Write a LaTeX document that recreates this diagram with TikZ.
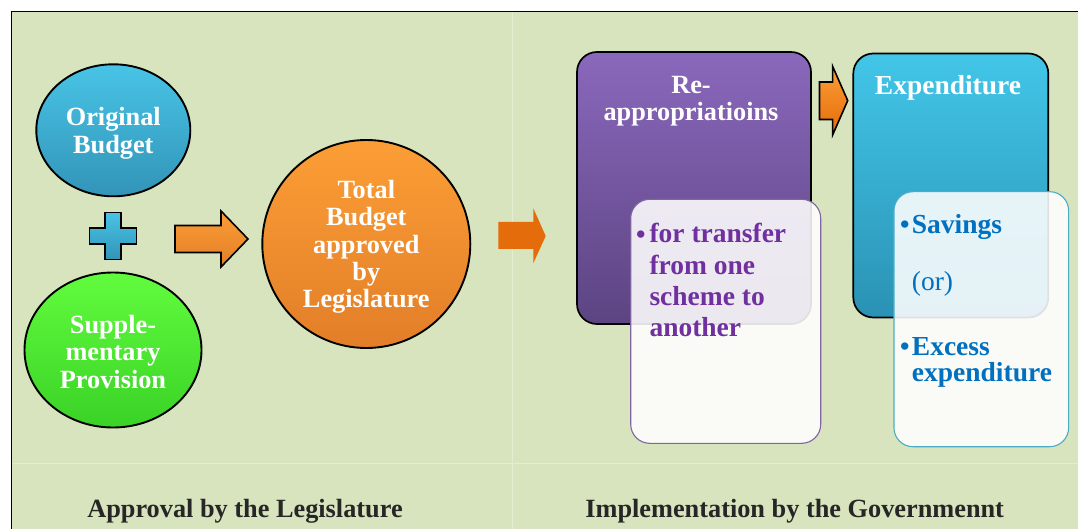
\documentclass[tikz,border=0pt]{standalone}
\usepackage{fontspec}
\setmainfont{Liberation Serif}
\usetikzlibrary{shapes.geometric}

\definecolor{panelgreen}{RGB}{215,228,189}
\definecolor{panelline}{RGB}{228,237,210}
\definecolor{ballbluetop}{RGB}{72,196,230}
\definecolor{ballbluebot}{RGB}{50,148,184}
\definecolor{ballgreentop}{RGB}{98,252,62}
\definecolor{ballgreenbot}{RGB}{58,210,38}
\definecolor{ballorangetop}{RGB}{252,158,54}
\definecolor{ballorangebot}{RGB}{226,126,40}
\definecolor{arroworange}{RGB}{228,108,10}
\definecolor{reapptop}{RGB}{138,104,188}
\definecolor{reappbot}{RGB}{92,68,130}
\definecolor{expendtop}{RGB}{66,198,232}
\definecolor{expendbot}{RGB}{42,146,180}
\definecolor{notepurple}{RGB}{112,48,160}
\definecolor{noteblue}{RGB}{0,112,192}
\definecolor{edgepurple}{RGB}{128,100,162}
\definecolor{edgeblue}{RGB}{75,172,198}
\definecolor{captiongrey}{RGB}{38,38,38}

\newcommand{\titlefont}{\fontsize{26.3}{27.3}\selectfont\bfseries}
\newcommand{\notefont}{\fontsize{27.5}{31.3}\selectfont\bfseries}
\newcommand{\notebullet}{\fontsize{27}{27}\selectfont\textbullet}

\tikzset{
  ball/.style={ellipse, draw=black, line width=1.9pt, inner sep=0pt},
  balltext/.style={text=white, font=\titlefont, align=center, inner sep=0pt},
  stagebox/.style={rectangle, rounded corners=20pt, draw=black, line width=1.7pt},
  notebox/.style={rectangle, rounded corners=19pt, fill=white, fill opacity=0.88, line width=1.1pt},
  notetext/.style={font=\notefont, inner sep=0pt},
  blockarrow/.style={draw=black, line width=1.6pt, line join=miter},
}

\begin{document}
\begin{tikzpicture}[x=1pt, y=-1pt]

\useasboundingbox (0,0) rectangle (1078,529);
\clip (0,0) rectangle (1078,529);

% panel
\fill[white] (0,0) rectangle (1078,529);
\fill[panelgreen] (11.5,11.5) rectangle (1078,529);
\draw[panelline, line width=1pt] (11.5,463) -- (1078,463);
\draw[panelline, line width=1pt] (512,11.5) -- (512,529);
\draw[line width=1.6pt] (1100,11.5) -- (11.5,11.5) -- (11.5,560);

% approval side
\node[ball, top color=ballbluetop, bottom color=ballbluebot, minimum width=154, minimum height=132] (orig) at (113.3,130.3) {};
\node[ball, top color=ballgreentop, bottom color=ballgreenbot, minimum width=177, minimum height=155] (supp) at (113,350) {};
\node[ball, circle, top color=ballorangetop, bottom color=ballorangebot, minimum size=208] (total) at (366.3,244) {};
\node[balltext] (origtext) at ([yshift=-3pt]orig.center) {Original\\Budget};
\node[balltext] (supptext) at ([yshift=-2pt]supp.center) {Supple-\\mentary\\Provision};
\node[balltext] (totaltext) at ([yshift=-3pt]total.center) {Total\\Budget\\approved\\by\\Legislature};

\coordinate (plus) at (113,236);
\draw[blockarrow, top color=ballbluetop, bottom color=ballbluebot] ([shift={(-8,-23.5)}]plus) -- ++(16,0) -- ++(0,15.5) -- ++(15.5,0) -- ++(0,16) -- ++(-15.5,0) -- ++(0,15.5) -- ++(-16,0) -- ++(0,-15.5) -- ++(-15.5,0) -- ++(0,-16) -- ++(15.5,0) -- cycle;

\draw[blockarrow, top color=ballorangetop, bottom color=ballorangebot] (175,225.5) -- (221,225.5) -- (221,211) -- (248,239) -- (221,267) -- (221,252.5) -- (175,252.5) -- cycle;
\fill[arroworange] (498.3,222) -- (533.3,222) -- (533.3,208.3) -- (545.7,236) -- (533.3,263.3) -- (533.3,249) -- (498.3,249) -- cycle;

% implementation side
\node[stagebox, top color=reapptop, bottom color=reappbot, minimum width=234, minimum height=272] (reapp) at (694,188) {};
\node[stagebox, top color=expendtop, bottom color=expendbot, minimum width=195, minimum height=264] (expend) at (950.8,185.5) {};
\draw[blockarrow, top color=ballorangetop, bottom color=arroworange] (819.5,82) -- (832.6,82) -- (832.6,66.3) -- (847.7,100.6) -- (832.6,135) -- (832.6,119.5) -- (819.5,119.5) -- cycle;

\node[font=\titlefont, text=white, align=center, anchor=base] (reapptitle) at (691,121) {Re-\\appropriatioins};
\node[font=\fontsize{27.5}{28}\selectfont\bfseries, text=white, anchor=base] (expendtitle) at (948,95) {Expenditure};

\node[notebox, draw=edgepurple, minimum width=190, minimum height=244] (xfernote) at (725.7,321.3) {};
\node[notebox, draw=edgeblue, minimum width=174.7, minimum height=255] (expendnote) at (981.3,319.2) {};

\node[notetext, text=notepurple, anchor=base west] (xferbullet) at (636,243.3) {\notebullet};
\node[notetext, text=notepurple, align=left, anchor=base west] (xfertext) at (649.3,336.7) {for transfer\\from one\\scheme to\\another};

\node[notetext, text=noteblue, anchor=base west] (savebullet) at (900,233.3) {\notebullet};
\node[notetext, text=noteblue, anchor=base west] (savetext) at (911.7,233.3) {Savings};
\node[notetext, text=noteblue, font=\fontsize{27.5}{31.3}\selectfont\mdseries, anchor=base west] (ortext) at (911.7,290) {(or)};
\node[notetext, text=noteblue, anchor=base west] (excessbullet) at (900,355) {\notebullet};
\node[notetext, text=noteblue, align=left, anchor=base west, font=\fontsize{27.5}{26.7}\selectfont\bfseries] (excesstext) at (911.7,381.7) {Excess\\expenditure};

% captions
\node[font=\titlefont, text=captiongrey, anchor=base] (approval) at (245,517) {Approval by the Legislature};
\node[font=\titlefont, text=captiongrey, anchor=base] (govt) at (794.7,517) {Implementation by the Governmennt};

\end{tikzpicture}
\end{document}
